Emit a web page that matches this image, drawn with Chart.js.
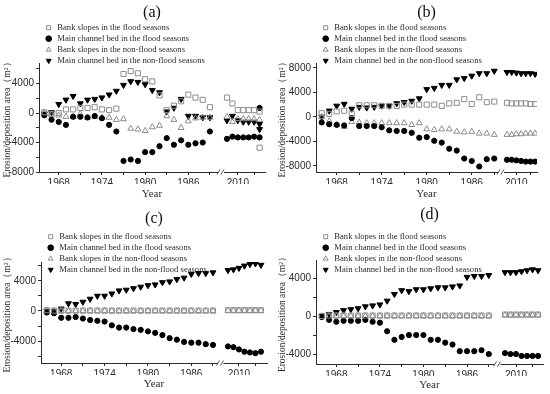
<!DOCTYPE html>
<html>
<head>
<meta charset="utf-8">
<script src="https://cdn.jsdelivr.net/npm/chart.js@4.4.1/dist/chart.umd.min.js"></script>
<style>
  body { margin: 0; background: #fff; }
  canvas { position: absolute; }
</style>
</head>
<body>
<canvas id="chartA" width="275" height="200" style="left:0;top:0"></canvas>
<canvas id="chartB" width="275" height="200" style="left:275px;top:0"></canvas>
<canvas id="chartC" width="275" height="197" style="left:0;top:197px"></canvas>
<canvas id="chartD" width="275" height="197" style="left:275px;top:197px"></canvas>
<script>
// years: 1966-1989, then 2008-2014 after the axis break
const years = [1966, 1967, 1968, 1969, 1970, 1971, 1972, 1973, 1974, 1975, 1976, 1977,
  1978, 1979, 1980, 1981, 1982, 1983, 1984, 1985, 1986, 1987, 1988, 1989,
  2008, 2009, 2010, 2011, 2012, 2013, 2014];
// panel (a) has a second set of points at 2014
const yearsA = years.concat([2014]);

const seriesNames = [
  'Bank slopes in the flood seasons',
  'Main channel bed in the flood seasons',
  'Bank slopes in the non-flood seasons',
  'Main channel bed in the non-flood seasons'
];

const xMajor = [1968, 1974, 1980, 1986, 2010];
const xTicks1 = [1968, 1971, 1974, 1977, 1980, 1983, 1986, 1989];
const xTicks2 = [2010, 2013];
const yTicks = [-8000, -6000, -4000, -2000, 0, 2000, 4000, 6000, 8000];

// (a)
const aBankFlood = [100, -100, 0, 500, 500, 700, 700, 800, 500, 400, 600, 5300, 5700, 5400, 4600, 4300, 2400, 400, 1000, 1600, 2500, 2100, 1800, 800,
  2100, 1300, 400, 400, 400, 400, 200, -4700];
const aMainFlood = [-300, -900, -1200, -1600, -500, -500, -600, -400, -700, -1600, -2500, -6500, -6300, -6500, -5300, -5300, -4500, -3400, -4300, -3700, -4300, -4100, -4000, -2500,
  -3500, -3200, -3300, -3300, -3300, -3200, -3300, 700];
const aBankNonFlood = [0, -200, -300, -500, -500, -100, -600, -500, -600, -600, -900, -800, -2100, -2200, -2400, -1900, -1700, -400, -900, -2000, -1100, -700, -600, -600,
  -500, -1200, -800, -800, -800, -800, -900, null];
const aMainNonFlood = [-100, 100, 1200, 1800, 2300, 1300, 1800, 1900, 2100, 2500, 3000, 3800, 4300, 4200, 3900, 3100, 2800, 200, 700, 1900, -400, -400, -600, -600,
  -1000, -400, -1000, -1200, -1200, -1200, -1500, -2200];

// (b)
const bBankFlood = [600, 500, 900, 1000, 500, 1900, 1900, 1900, 1800, 1800, 1800, 2000, 2000, 2000, 2000, 2000, 1800, 2200, 2300, 2900, 2100, 3200, 2400, 2500,
  2300, 2200, 2200, 2200, 2200, 2100, 2100];
const bMainFlood = [-900, -1200, -1300, -1400, -200, -1500, -1500, -1500, -1700, -2200, -2300, -2300, -2600, -3400, -3300, -3900, -4200, -5200, -5500, -6800, -7200, -8100, -6900, -6800,
  -7000, -7000, -7100, -7200, -7300, -7300, -7300];
const bBankNonFlood = [0, -700, -1300, -1600, -800, -900, -1000, -1000, -1000, -1000, -1000, -1000, -1300, -1000, -2000, -2100, -2000, -2000, -2400, -2500, -2400, -2700, -2700, -2900,
  -2900, -2900, -2800, -2800, -2700, -2700, -2700];
const bMainNonFlood = [0, 1000, 1800, 2100, 1300, 1600, 1500, 1600, 1800, 1800, 2200, 2400, 2600, 3000, 4500, 4700, 5200, 5200, 6100, 6300, 6700, 7100, 7100, 7500,
  7300, 7300, 7200, 7100, 7100, 7100, 7000];

// (c)
const cBankFlood = [100, 50, 50, 50, 50, 50, 50, 50, 50, 50, 50, 50, 50, 50, 50, 50, 50, 50, 50, 50, 50, 50, 50, 50,
  100, 100, 100, 100, 100, 100, 100];
const cMainFlood = [-200, -300, -900, -900, -800, -1000, -1200, -1300, -1400, -1900, -2200, -2200, -2400, -2500, -2700, -2900, -3200, -3600, -3800, -4100, -4200, -4200, -4400, -4500,
  -4700, -4800, -5100, -5400, -5500, -5600, -5400];
const cBankNonFlood = [0, 0, 0, 0, 0, 0, 0, 0, 0, 0, 0, 0, 0, 0, 0, 0, 0, 0, 0, 0, 0, 0, 0, 0,
  50, 50, 50, 50, 50, 50, 50];
const cMainNonFlood = [0, 0, 300, 1000, 900, 1200, 1600, 2000, 2000, 2300, 2700, 2800, 3000, 3200, 3400, 3500, 3800, 3900, 4200, 4400, 4900, 5000, 5000, 5100,
  5400, 5500, 5700, 6000, 6200, 6300, 6100];

// (d)
const dBankFlood = [0, 50, 50, 50, 50, 50, 50, 50, 50, 50, 50, 50, 50, 50, 50, 50, 50, 50, 50, 50, 50, 50, 50, 50,
  150, 150, 150, 150, 150, 150, 150];
const dMainFlood = [-100, -400, -600, -500, -500, -500, -400, -600, -700, -1600, -2500, -2200, -2000, -2000, -2000, -2500, -2500, -2800, -3000, -3700, -3700, -3700, -3600, -4000,
  -3900, -4000, -4000, -4200, -4200, -4200, -4200];
const dBankNonFlood = [0, 0, 0, 0, 0, 0, 0, 0, 0, 0, 0, 0, 0, 0, 0, 0, 0, 0, 0, 0, 0, 0, 0, 0,
  100, 100, 100, 100, 100, 100, 100];
const dMainNonFlood = [0, 200, 400, 600, 700, 800, 1000, 1100, 1200, 1600, 2300, 2700, 2600, 2800, 2800, 2900, 3000, 3000, 3100, 3200, 4100, 4200, 4200, 4300,
  4600, 4600, 4600, 4700, 4800, 4900, 4800];

const SERIF = "'Liberation Serif', 'Times New Roman', serif";
const SANS = "'Liberation Sans', Arial, sans-serif";
const GRAY = '#8c8c8c';
const INK = '#2b2b2b';

const markers = [
  { pointStyle: 'rect', radius: 3.6, rotation: 0, fill: 'rgba(0,0,0,0)', stroke: GRAY },
  { pointStyle: 'circle', radius: 2.6, rotation: 0, fill: '#000', stroke: '#000' },
  { pointStyle: 'triangle', radius: 3.4, rotation: 0, fill: 'rgba(0,0,0,0)', stroke: GRAY },
  { pointStyle: 'triangle', radius: 3.4, rotation: 180, fill: '#000', stroke: '#000' }
];

// draws the "//" on the bottom axis where the two year ranges meet
const axisBreak = {
  id: 'axisBreak',
  afterDraw(chart) {
    const s = chart.scales.x1;
    const ctx = chart.ctx;
    const x = s.right, y = s.top;
    ctx.save();
    ctx.fillStyle = '#fff';
    ctx.fillRect(x - 3, y - 2, 6, 4);
    ctx.strokeStyle = INK;
    ctx.lineWidth = 0.8;
    ctx.beginPath();
    ctx.moveTo(x - 4, y + 2.5); ctx.lineTo(x - 1, y - 2.5);
    ctx.moveTo(x, y + 2.5); ctx.lineTo(x + 3, y - 2.5);
    ctx.stroke();
    ctx.restore();
  }
};

// nudge the legend right and let its last row hang over the plot top, as in the figure
const legendNudge = {
  id: 'legendNudge',
  afterLayout(chart, args, opts) {
    const lg = chart.legend;
    lg.left += opts.shift;
    lg.right += opts.shift;
    lg.bottom += opts.overhang;
    lg.height += opts.overhang;
  }
};

function pickPoints(yrs, vals, later) {
  const pts = [];
  yrs.forEach((yr, i) => {
    if (vals[i] === null) return;
    if ((yr > 2000) === later) pts.push({ x: yr, y: vals[i] });
  });
  return pts;
}

function drawPanel(id, letter, yrs, series, geo) {
  const datasets = [];
  [false, true].forEach(later => {
    series.forEach((vals, k) => {
      const m = markers[k];
      datasets.push({
        label: seriesNames[k],
        data: pickPoints(yrs, vals, later),
        xAxisID: later ? 'x2' : 'x1',
        yAxisID: 'y',
        pointStyle: m.pointStyle,
        pointRadius: m.radius,
        pointRotation: m.rotation,
        backgroundColor: m.fill,
        borderColor: m.stroke,
        borderWidth: 1
      });
    });
  });

  const xAxis = (range, ticks, weight) => ({
    type: 'linear',
    position: 'bottom',
    stack: 'years',
    stackWeight: weight,
    min: range[0],
    max: range[1],
    afterBuildTicks: s => { s.ticks = ticks.map(v => ({ value: v })); },
    afterFit: s => { s.height = 12; },
    grid: { drawOnChartArea: false, drawTicks: true, tickLength: 3, color: INK },
    border: { display: true, color: INK, width: 1 },
    ticks: {
      autoSkip: false, maxRotation: 0, padding: 2,
      color: INK, font: { family: SANS, size: 10 },
      callback: v => xMajor.includes(v) ? String(v) : ''
    }
  });

  new Chart(document.getElementById(id), {
    type: 'scatter',
    data: { datasets },
    options: {
      responsive: false,
      animation: false,
      devicePixelRatio: 1,
      layout: { padding: { left: 0, right: geo.padRight, top: 0, bottom: 0 } },
      plugins: {
        title: {
          display: true, text: letter, fullSize: false,
          color: '#111', font: { family: SERIF, size: 16, weight: 'normal', lineHeight: 1 },
          padding: geo.titlePad
        },
        subtitle: {
          display: true, text: 'Year', position: 'bottom', fullSize: false,
          color: INK, font: { family: SERIF, size: 11, lineHeight: 1 },
          padding: geo.subPad
        },
        legend: {
          display: true, position: 'top', align: 'start', fullSize: false,
          maxHeight: geo.legendH,
          labels: {
            usePointStyle: true, boxWidth: 10, boxHeight: 4, padding: 2.4,
            color: INK, font: { family: SERIF, size: 8.6 },
            filter: item => item.datasetIndex < 4
          }
        },
        legendNudge: { shift: 3, overhang: geo.overhang },
        tooltip: { enabled: false }
      },
      scales: {
        x1: xAxis(geo.x1, xTicks1, geo.w1),
        x2: xAxis(geo.x2, xTicks2, geo.w2),
        y: {
          type: 'linear',
          position: 'left',
          min: geo.y[0],
          max: geo.y[1],
          afterBuildTicks: s => { s.ticks = yTicks.filter(v => v >= s.min && v <= s.max).map(v => ({ value: v })); },
          afterFit: s => { s.width = geo.left; },
          grid: { drawOnChartArea: false, drawTicks: true, tickLength: 3, color: INK },
          border: { display: true, color: INK, width: 1 },
          ticks: {
            padding: 2, color: INK, font: { family: SANS, size: 10 },
            callback: v => v % 4000 === 0 ? String(v) : ''
          },
          title: {
            display: true, text: 'Erosion/deposition area（m²）',
            color: INK, font: { family: SERIF, size: 9.5, lineHeight: 1.2 },
            padding: { top: 1.5, bottom: 0 }
          }
        }
      }
    },
    plugins: [axisBreak, legendNudge]
  });
}

drawPanel('chartA', '(a)', yearsA, [aBankFlood, aMainFlood, aBankNonFlood, aMainNonFlood], {
  left: 39, padRight: 10, titlePad: { top: 5, bottom: 0 }, legendH: 42, overhang: 4,
  subPad: { top: 5, bottom: 0 },
  x1: [1965.26, 1990.54], x2: [2006.9, 2015.0], w1: 182, w2: 44, y: [-8000, 6800]
});
drawPanel('chartB', '(b)', years, [bBankFlood, bMainFlood, bBankNonFlood, bMainNonFlood], {
  left: 41, padRight: 13, titlePad: { top: 5, bottom: 0 }, legendH: 42, overhang: 4,
  subPad: { top: 5, bottom: 0 },
  x1: [1965.24, 1989.9], x2: [2006.72, 2014.4], w1: 185, w2: 36, y: [-9000, 8800]
});
drawPanel('chartC', '(c)', years, [cBankFlood, cMainFlood, cBankNonFlood, cMainNonFlood], {
  left: 41, padRight: 8, titlePad: { top: 14, bottom: 3 }, legendH: 32, overhang: 14,
  subPad: { top: 3.5, bottom: 4.5 },
  x1: [1965.2, 1990.04], x2: [2006.64, 2015.1], w1: 179.5, w2: 46.5, y: [-6900, 6500]
});
drawPanel('chartD', '(d)', years, [dBankFlood, dMainFlood, dBankNonFlood, dMainNonFlood], {
  left: 41, padRight: 7, titlePad: { top: 10, bottom: 7 }, legendH: 30, overhang: 14,
  subPad: { top: 3.5, bottom: 3.5 },
  x1: [1965.2, 1990.2], x2: [2006.64, 2014.9], w1: 181.5, w2: 45.5, y: [-5050, 5900]
});
</script>
</body>
</html>
